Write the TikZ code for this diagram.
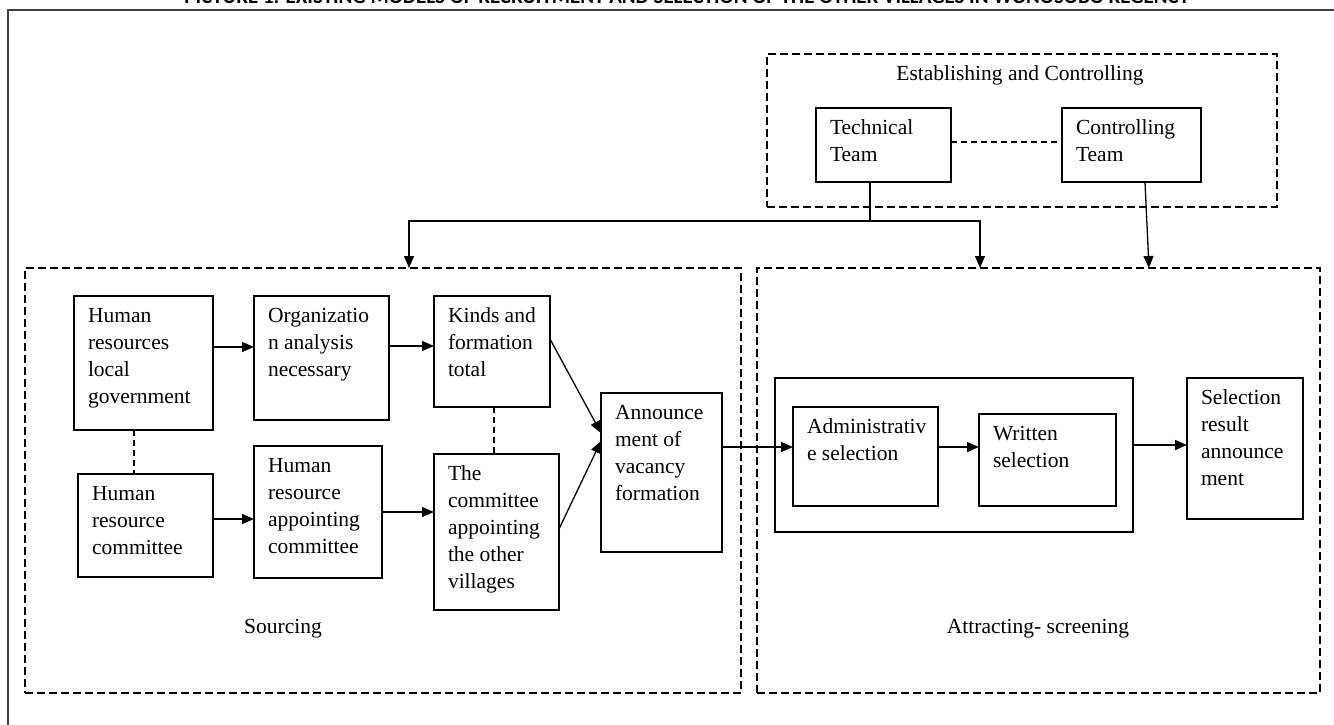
\documentclass[tikz,border=0pt]{standalone}
\usepackage{graphicx}
\usepackage{fontspec}
\setmainfont{Liberation Serif}
\newfontfamily\titlefont{Carlito}
\usetikzlibrary{arrows.meta,calc}
% box with its own text: name, x1, y1, x2, y2, text
\newcommand\mybox[6]{%
  \node[box, anchor=north west, minimum width={(#4-#2)*1pt}, minimum height={(#5-#3)*1pt}] (#1) at (#2,#3) {};
  \node[txt, anchor=north west] (#1t) at (#2+14,#3+6) {\rule{0pt}{20pt}#6};
}
\begin{document}
\begin{tikzpicture}[x=1pt,y=-1pt,
  box/.style={draw, line width=1.3pt, inner sep=0pt, outer sep=0pt},
  grp/.style={draw, line width=1.4pt, dash pattern=on 8pt off 4pt, inner sep=0pt, outer sep=0pt},
  txt/.style={inner sep=0pt, outer sep=0pt, align=left, font=\fontsize{21.5}{27}\selectfont},
  lbl/.style={inner sep=0pt, outer sep=0pt, font=\fontsize{21.5}{27}\selectfont},
  arr/.style={line width=1.3pt, -{Triangle[length=12pt,width=10pt]}},
  link/.style={line width=1.3pt},
  dlink/.style={line width=1.3pt, dash pattern=on 6pt off 4pt}]
\useasboundingbox (0,0) rectangle (1334,724);
\clip (0,0) rectangle (1334,724);

% cut-off title and outer frame
\node[anchor=base, inner sep=0pt] (title) at (687,3)
  {\resizebox{1005pt}{!}{\titlefont\bfseries PICTURE 1: EXISTING MODELS OF RECRUITMENT AND SELECTION OF THE OTHER VILLAGES IN WONOSOBO REGENCY}};
\draw[line width=2pt, black!75] (8,730) -- (8,10) -- (1340,10);

% group boxes
\node[grp, anchor=north west, minimum width=510pt, minimum height=153pt] (est) at (767,54) {};
\node[lbl, anchor=base] (estl) at (1020,80) {Establishing and Controlling};
\node[grp, anchor=north west, minimum width=716pt, minimum height=425pt] (src) at (25,268) {};
\node[lbl, anchor=base] (srcl) at (283,633) {Sourcing};
\node[grp, anchor=north west, minimum width=563pt, minimum height=425pt] (att) at (757,268) {};
\node[lbl, anchor=base] (attl) at (1038,633) {Attracting- screening};

% establishing boxes
\mybox{tech}{816}{108}{951}{182}{Technical\\Team}
\mybox{ctrl}{1062}{108}{1201}{182}{Controlling\\Team}

% sourcing boxes
\mybox{hrlg}{74}{296}{213}{430}{Human\\resources\\local\\government}
\mybox{org}{254}{296}{389}{420}{Organizatio\\n analysis\\necessary}
\mybox{kinds}{434}{296}{550}{407}{Kinds and\\formation\\total}
\mybox{hrc}{78}{474}{213}{577}{Human\\resource\\committee}
\mybox{hra}{254}{446}{382}{578}{Human\\resource\\appointing\\committee}
\mybox{com}{434}{454}{559}{610}{The\\committee\\appointing\\the other\\villages}
\mybox{ann}{601}{393}{722}{552}{Announce\\ment of\\vacancy\\formation}

% attracting boxes
\node[box, anchor=north west, minimum width=358pt, minimum height=154pt] (sel) at (775,378) {};
\mybox{adm}{793}{407}{938}{506}{Administrativ\\e selection}
\mybox{wri}{979}{414}{1116}{506}{Written\\selection}
\mybox{res}{1187}{378}{1303}{519}{Selection\\result\\announce\\ment}

% connectors at top
\coordinate (j) at (870,221);
\coordinate (jl) at (409,221);
\coordinate (jr) at (980,221);
\draw[dlink] (tech.east |- 0,142) -- (ctrl.west |- 0,142);
\draw[arr] (tech.south -| j) -- (j) -- (jl) -- (jl |- src.north);
\draw[arr] (j) -- (jr) -- (jr |- att.north);
\draw[arr] (ctrl.south -| 1145,0) -- (att.north -| 1149,0);

% sourcing connectors
\draw[arr] (hrlg.east |- 0,347) -- (org.west |- 0,347);
\draw[arr] (org.east |- 0,346) -- (kinds.west |- 0,346);
\draw[arr] (hrc.east |- 0,519) -- (hra.west |- 0,519);
\draw[arr] (hra.east |- 0,512) -- (com.west |- 0,512);
\draw[dlink] (hrlg.south -| 134,0) -- (hrc.north -| 134,0);
\draw[dlink] (kinds.south -| 494,0) -- (com.north -| 494,0);
\draw[arr] (kinds.east |- 0,339) -- (ann.west |- 0,433);
\draw[arr] (com.east |- 0,529) -- (ann.west |- 0,441);

% attracting connectors
\draw[arr] (ann.east |- 0,447) -- (adm.west |- 0,447);
\draw[arr] (adm.east |- 0,447) -- (wri.west |- 0,447);
\draw[arr] (sel.east |- 0,445) -- (res.west |- 0,445);
\end{tikzpicture}
\end{document}
